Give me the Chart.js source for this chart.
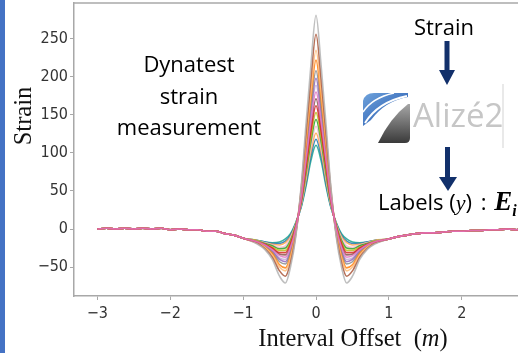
<!DOCTYPE html>
<html>
<head>
<meta charset="utf-8">
<script src="https://cdn.jsdelivr.net/npm/chart.js@4/dist/chart.umd.min.js"></script>
<style>
  html, body { margin: 0; padding: 0; width: 518px; height: 353px; overflow: hidden; background: #fff; }
  #wrap { position: absolute; left: 0; top: 0; width: 560px; height: 353px; }
  .note { position: absolute; font-family: "Open Sans", sans-serif; font-size: 22px; color: #000; white-space: nowrap; line-height: 30px; }
  .serif { position: absolute; font-family: "Liberation Serif", "Times New Roman", serif; color: #111; white-space: nowrap; }
  #bar { position: absolute; left: 0; top: 0; width: 5px; height: 353px; background: #4472c4; }
  #overlay { position: absolute; left: 0; top: 0; }
</style>
</head>
<body>
<div id="wrap"><canvas id="strainChart" width="560" height="353"></canvas></div>
<div id="bar"></div>

<div class="note" style="left:89px; top:48px; width:200px; text-align:center; line-height:31.5px;">Dynatest<br>strain<br>measurement</div>
<div class="note" style="left:394px; top:11px; width:100px; text-align:center;">Strain</div>
<div class="note" style="left:378px; top:186px;">Labels (<i style="font-family:'Liberation Serif',serif;">y</i>)&nbsp;<span style="margin-left:3px;">:</span>&nbsp;<b><i style="font-family:'Liberation Serif',serif; font-size:27px; margin-left:2px;">E<sub style="font-size:16px;">i</sub></i></b></div>

<div class="serif" style="left:23px; top:116px; font-size:24.5px; transform:translate(-50%,-50%) rotate(-90deg);">Strain</div>
<div class="serif" style="left:353px; top:338px; font-size:24.5px; transform:translate(-50%,-50%);">Interval Offset&nbsp; (<i>m</i>)</div>

<svg id="overlay" width="518" height="353">
  <defs>
    <linearGradient id="blueGrad" x1="0" y1="0" x2="1" y2="1">
      <stop offset="0" stop-color="#6fa3dc"/>
      <stop offset="1" stop-color="#1d4fa8"/>
    </linearGradient>
    <linearGradient id="grayGrad" x1="0" y1="0" x2="0" y2="1">
      <stop offset="0" stop-color="#a6a6a6"/>
      <stop offset="1" stop-color="#3a3a3a"/>
    </linearGradient>
  </defs>
  <!-- arrows -->
  <rect x="444.5" y="41" width="5" height="31" fill="#12306b"/>
  <polygon points="439,70 455,70 447,85" fill="#12306b"/>
  <rect x="445" y="147" width="5" height="32" fill="#12306b"/>
  <polygon points="439,177 457,177 448,191" fill="#12306b"/>
  <!-- Alizé2 logo -->
  <line x1="503" y1="84" x2="503" y2="148" stroke="#e2e2e2" stroke-width="1.5"/>
  <path d="M363,126 L363,101 Q365,93 374,93 L408,93 L408,97 Q385,101 371,120 Z" fill="url(#blueGrad)"/>
  <path d="M365,123 Q378,102 407,96" stroke="#fff" stroke-width="2" fill="none"/>
  <path d="M363,112 Q372,98 394,93" stroke="#fff" stroke-width="1.5" fill="none"/>
  <path d="M378,143 Q390,118 408,104 L410,104 L410,138 Q410,143 405,143 Z" fill="url(#grayGrad)"/>
  <text x="413" y="127" font-family="Open Sans, sans-serif" font-size="33" fill="#c6c6c6">Alizé2</text>
</svg>

<script>
// -------------------
// Data
// -------------------
const leftOffsets = [-3, -2.875, -2.75, -2.625, -2.5, -2.375, -2.25, -2.125, -2,
                     -1.875, -1.75, -1.625, -1.5, -1.375, -1.25, -1.125, -1];
const coreOffsets = [-0.8, -0.7, -0.6, -0.5, -0.42, -0.35, -0.28, -0.2, -0.14, -0.07, 0,
                     0.07, 0.14, 0.2, 0.28, 0.35, 0.42, 0.5, 0.6, 0.7, 0.8];
const rightOffsets = [1, 1.125, 1.25, 1.375, 1.5, 1.625, 1.75, 1.875, 2,
                      2.125, 2.25, 2.375, 2.5, 2.625, 2.75, 2.875, 3];

// all curves share the far tails (small ripple included)
const leftTail = [0, 1, 0, 1, 0, 1, 0, 1, -1, 0, -1, -1, -3, -3, -6, -8, -12];
const rightTail = [-13, -10, -8, -6, -5, -5, -4, -3, -3, -2, -2, -1, -1, 0, -1, 0, 0];

// one array per measurement, largest peak first
const strain01 = [-20, -27, -40, -62, -71, -50, -12, 60, 135, 215, 281, 215, 135, 60, -12, -50, -71, -62, -40, -27, -20];
const strain02 = [-19, -26, -37, -55, -62, -44, -9, 56, 123, 197, 256, 197, 123, 56, -9, -44, -62, -55, -37, -26, -19];
const strain03 = [-19, -24, -34, -50, -55, -38, -7, 52, 114, 181, 235, 181, 114, 52, -7, -38, -55, -50, -34, -24, -19];
const strain04 = [-18, -24, -32, -47, -51, -35, -5, 50, 107, 172, 222, 172, 107, 50, -5, -35, -51, -47, -32, -24, -18];
const strain05 = [-18, -23, -31, -43, -46, -31, -3, 47, 101, 162, 208, 162, 101, 47, -3, -31, -46, -43, -31, -23, -18];
const strain06 = [-18, -22, -29, -40, -43, -29, -2, 45, 96, 154, 198, 154, 96, 45, -2, -29, -43, -40, -29, -22, -18];
const strain07 = [-17, -22, -28, -38, -40, -26, -1, 44, 92, 148, 189, 148, 92, 44, -1, -26, -40, -38, -28, -22, -17];
const strain08 = [-17, -21, -27, -35, -37, -24, 0, 42, 88, 141, 180, 141, 88, 42, 0, -24, -37, -35, -27, -21, -17];
const strain09 = [-17, -21, -26, -33, -34, -22, 1, 41, 84, 135, 171, 135, 84, 41, 1, -22, -34, -33, -26, -21, -17];
const strain10 = [-17, -20, -25, -31, -31, -19, 2, 39, 79, 128, 162, 128, 79, 39, 2, -19, -31, -31, -25, -20, -17];
const strain11 = [-16, -20, -24, -28, -28, -17, 3, 38, 75, 121, 153, 121, 75, 38, 3, -17, -28, -28, -24, -20, -16];
const strain12 = [-16, -19, -22, -26, -25, -15, 4, 36, 71, 115, 144, 115, 71, 36, 4, -15, -25, -26, -22, -19, -16];
const strain13 = [-16, -18, -21, -24, -22, -12, 5, 34, 67, 108, 135, 108, 67, 34, 5, -12, -22, -24, -21, -18, -16];
const strain14 = [-15, -18, -20, -21, -18, -10, 6, 33, 63, 102, 126, 102, 63, 33, 6, -10, -18, -21, -20, -18, -15];
const strain15 = [-15, -17, -19, -19, -16, -8, 7, 31, 59, 96, 118, 96, 59, 31, 7, -8, -16, -19, -19, -17, -15];
const strain16 = [-15, -17, -18, -17, -13, -6, 8, 30, 55, 90, 110, 90, 55, 30, 8, -6, -13, -17, -18, -17, -15];

const curveColors = ['#b4b4b4', '#a9563a', '#ffbb78', '#ff7f0e', '#8c8c8c', '#9467bd', '#c5b0d5', '#e377c2',
                     '#8c564b', '#d62728', '#bcbd22', '#2ca02c', '#f7b6d2', '#ffa64d', '#1f77b4', '#1aa38c'];

const xTicks = [-3, -2, -1, 0, 1, 2, 3];
const yTicks = [-50, 0, 50, 100, 150, 200, 250];

// -------------------
// Chart
// -------------------
const curves = [strain01, strain02, strain03, strain04, strain05, strain06, strain07, strain08,
                strain09, strain10, strain11, strain12, strain13, strain14, strain15, strain16];
const offsets = leftOffsets.concat(coreOffsets, rightOffsets);

const datasets = curves.map((core, i) => {
  const ys = leftTail.concat(core, rightTail);
  return {
    label: 'Measurement ' + (i + 1),
    data: offsets.map((x, j) => ({ x: x, y: ys[j] })),
    borderColor: curveColors[i] + 'd9',
    borderWidth: 1.6,
    pointRadius: 0,
    fill: false,
    cubicInterpolationMode: 'monotone',
    order: i === 7 ? 0 : (i === 9 ? 1 : 2)
  };
});

const tickFont = { family: '"Liberation Sans Narrow", "DejaVu Sans Condensed", sans-serif', size: 16 };
const minusSign = v => String(v).replace('-', '\u2212');

// matplotlib-like top spine
const topSpine = {
  id: 'topSpine',
  afterDraw(chart) {
    const { ctx, chartArea } = chart;
    ctx.save();
    ctx.strokeStyle = '#a8a8a8';
    ctx.lineWidth = 1.5;
    ctx.beginPath();
    ctx.moveTo(chartArea.left, chartArea.top);
    ctx.lineTo(chartArea.right, chartArea.top);
    ctx.stroke();
    ctx.restore();
  }
};

new Chart(document.getElementById('strainChart'), {
  type: 'line',
  data: { datasets: datasets },
  options: {
    responsive: false,
    animation: false,
    layout: { padding: { top: 3, right: 2, left: 0, bottom: 0 } },
    plugins: { legend: { display: false }, tooltip: { enabled: false } },
    scales: {
      x: {
        type: 'linear',
        min: -3.32,
        max: 3.32,
        afterBuildTicks: s => { s.ticks = xTicks.map(v => ({ value: v })); },
        afterFit: s => { s.height = 57; s.paddingLeft = 0; s.paddingRight = 0; },
        ticks: { font: tickFont, color: '#333', padding: 4, maxRotation: 0, callback: minusSign },
        grid: { drawOnChartArea: false, tickLength: 4, color: '#a8a8a8' },
        border: { color: '#a8a8a8', width: 1.5 }
      },
      y: {
        min: -88,
        max: 297,
        afterBuildTicks: s => { s.ticks = yTicks.map(v => ({ value: v })); },
        afterFit: s => { s.width = 74; s.paddingTop = 0; s.paddingBottom = 0; },
        ticks: { font: tickFont, color: '#333', padding: 2, callback: minusSign },
        grid: { drawOnChartArea: false, tickLength: 4, color: '#a8a8a8' },
        border: { color: '#a8a8a8', width: 1.5 }
      }
    }
  },
  plugins: [topSpine]
});
</script>
</body>
</html>
